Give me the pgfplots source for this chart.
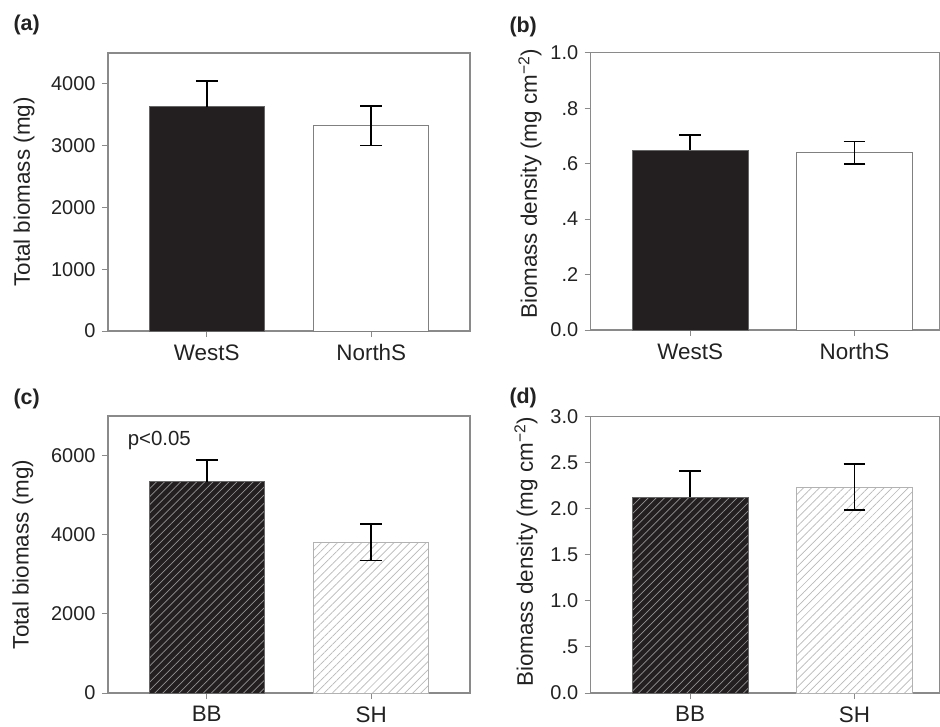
\documentclass[border=0pt]{standalone}
\usepackage{pgfplots}
\pgfplotsset{compat=1.18}
\usepackage{fontspec}
\setmainfont{Liberation Sans}
\usetikzlibrary{patterns.meta}
\definecolor{barblack}{HTML}{231F20}
\definecolor{axgray}{HTML}{8A8A8A}
\definecolor{txt}{HTML}{222222}
\newcommand{\tl}[1]{\mbox{#1}}
\pgfplotsset{
 panel/.style={
  scale only axis, anchor=south west,
  axis line style={axgray, line width=1.1bp},
  xtick={1,2}, tick align=outside, major tick length=6bp,
  tick style={axgray, line width=1bp},
  xtick pos=lower, ytick pos=left,
  ymin=0,
  yticklabel style={font=\fontsize{20}{24}\selectfont, text=txt, xshift=-3bp},
  xticklabel style={font=\fontsize{22.5}{26}\selectfont, text=txt, yshift=-4bp},
  ylabel style={font=\fontsize{22.5}{27}\selectfont, text=txt, anchor=center},
  clip=false,
 },
 ebar/.style={error bars/.cd, y dir=both, y explicit,
   error bar style={line width=1.7bp, black},
   error mark options={rotate=90, mark size=10.8bp, line width=1.7bp, black}},
 ebarup/.style={error bars/.cd, y dir=plus, y explicit,
   error bar style={line width=1.7bp, black},
   error mark options={rotate=90, mark size=10.8bp, line width=1.7bp, black}},
}
\begin{document}
\begin{tikzpicture}
\path[use as bounding box] (0,0) rectangle (940bp,-727bp);
% (a)
\begin{axis}[panel, at={(108bp,-331bp)}, width=362bp, height=278bp,
  xmin=0.4, xmax=2.6, ymax=4500,
  ytick={0,1000,2000,3000,4000}, yticklabels={\tl{0},\tl{1000},\tl{2000},\tl{3000},\tl{4000}},
  xticklabels={WestS,NorthS},
  ylabel={Total biomass (mg)},
  ylabel style={at={(axis description cs:-0.232,0.5)}}]
\addplot[ybar, bar width=0.7, bar shift=0pt, fill=barblack, draw=gray!80!black, line width=0.8bp, ebarup]
  coordinates {(1,3632) +- (0,418)};
\addplot[ybar, bar width=0.7, bar shift=0pt, fill=white, draw=gray, line width=0.8bp, ebar]
  coordinates {(2,3325) +- (0,320)};
\end{axis}
% (b)
\begin{axis}[panel, at={(590.7bp,-330bp)}, width=349.3bp, height=277.3bp,
  xmin=0.395, xmax=2.52, ymax=1.0,
  ytick={0,0.2,0.4,0.6,0.8,1.0}, yticklabels={\tl{0.0},\tl{.2},\tl{.4},\tl{.6},\tl{.8},\tl{1.0}},
  xticklabels={WestS,NorthS},
  ylabel={Biomass density (mg cm\textsuperscript{−2})},
  ylabel style={at={(axis description cs:-0.174,0.527)}}]
\addplot[ybar, bar width=0.705, bar shift=0pt, fill=barblack, draw=gray!80!black, line width=0.8bp, ebarup]
  coordinates {(1,0.649) +- (0,0.054)};
\addplot[ybar, bar width=0.705, bar shift=0pt, fill=white, draw=gray, line width=0.8bp, ebar]
  coordinates {(2,0.639) +- (0,0.041)};
\end{axis}
% (c)
\begin{axis}[panel, at={(108bp,-693bp)}, width=362bp, height=277bp,
  xmin=0.4, xmax=2.6, ymax=7000,
  ytick={0,2000,4000,6000}, yticklabels={\tl{0},\tl{2000},\tl{4000},\tl{6000}},
  xticklabels={BB,SH},
  ylabel={Total biomass (mg)},
  ylabel style={at={(axis description cs:-0.235,0.5)}}]
\addplot[ybar, bar width=0.7, bar shift=0pt, fill=barblack, draw=gray!80!black, line width=0.8bp,
  postaction={pattern={Lines[angle=45,distance=5.7bp,line width=0.7bp]}, pattern color=gray!85}, ebarup]
  coordinates {(1,5335) +- (0,555)};
\addplot[ybar, bar width=0.7, bar shift=0pt, fill=white, draw=gray!60, line width=0.8bp,
  postaction={pattern={Lines[angle=45,distance=5.7bp,line width=0.7bp]}, pattern color=gray!55}, ebar]
  coordinates {(2,3810) +- (0,460)};
\node[anchor=west, font=\fontsize{20.5}{24}\selectfont, text=txt] at (rel axis cs:0.045,0.913) {p<0.05};
\end{axis}
% (d)
\begin{axis}[panel, at={(590.7bp,-693bp)}, width=349.3bp, height=276.7bp,
  xmin=0.395, xmax=2.52, ymax=3.0,
  ytick={0,0.5,1.0,1.5,2.0,2.5,3.0}, yticklabels={\tl{0.0},\tl{.5},\tl{1.0},\tl{1.5},\tl{2.0},\tl{2.5},\tl{3.0}},
  xticklabels={BB,SH},
  ylabel={Biomass density (mg cm\textsuperscript{−2})},
  ylabel style={at={(axis description cs:-0.185,0.51)}}]
\addplot[ybar, bar width=0.705, bar shift=0pt, fill=barblack, draw=gray!80!black, line width=0.8bp,
  postaction={pattern={Lines[angle=45,distance=5.7bp,line width=0.7bp]}, pattern color=gray!85}, ebarup]
  coordinates {(1,2.122) +- (0,0.285)};
\addplot[ybar, bar width=0.705, bar shift=0pt, fill=white, draw=gray!60, line width=0.8bp,
  postaction={pattern={Lines[angle=45,distance=5.7bp,line width=0.7bp]}, pattern color=gray!55}, ebar]
  coordinates {(2,2.233) +- (0,0.25)};
\end{axis}
% panel letters
\node[anchor=west, font=\bfseries\fontsize{21.5}{25}\selectfont, text=txt] at (10bp,-25bp) {(a)};
\node[anchor=west, font=\bfseries\fontsize{21.5}{25}\selectfont, text=txt] at (506bp,-26.5bp) {(b)};
\node[anchor=west, font=\bfseries\fontsize{21.5}{25}\selectfont, text=txt] at (10bp,-399bp) {(c)};
\node[anchor=west, font=\bfseries\fontsize{21.5}{25}\selectfont, text=txt] at (506bp,-398bp) {(d)};
\end{tikzpicture}
\end{document}
